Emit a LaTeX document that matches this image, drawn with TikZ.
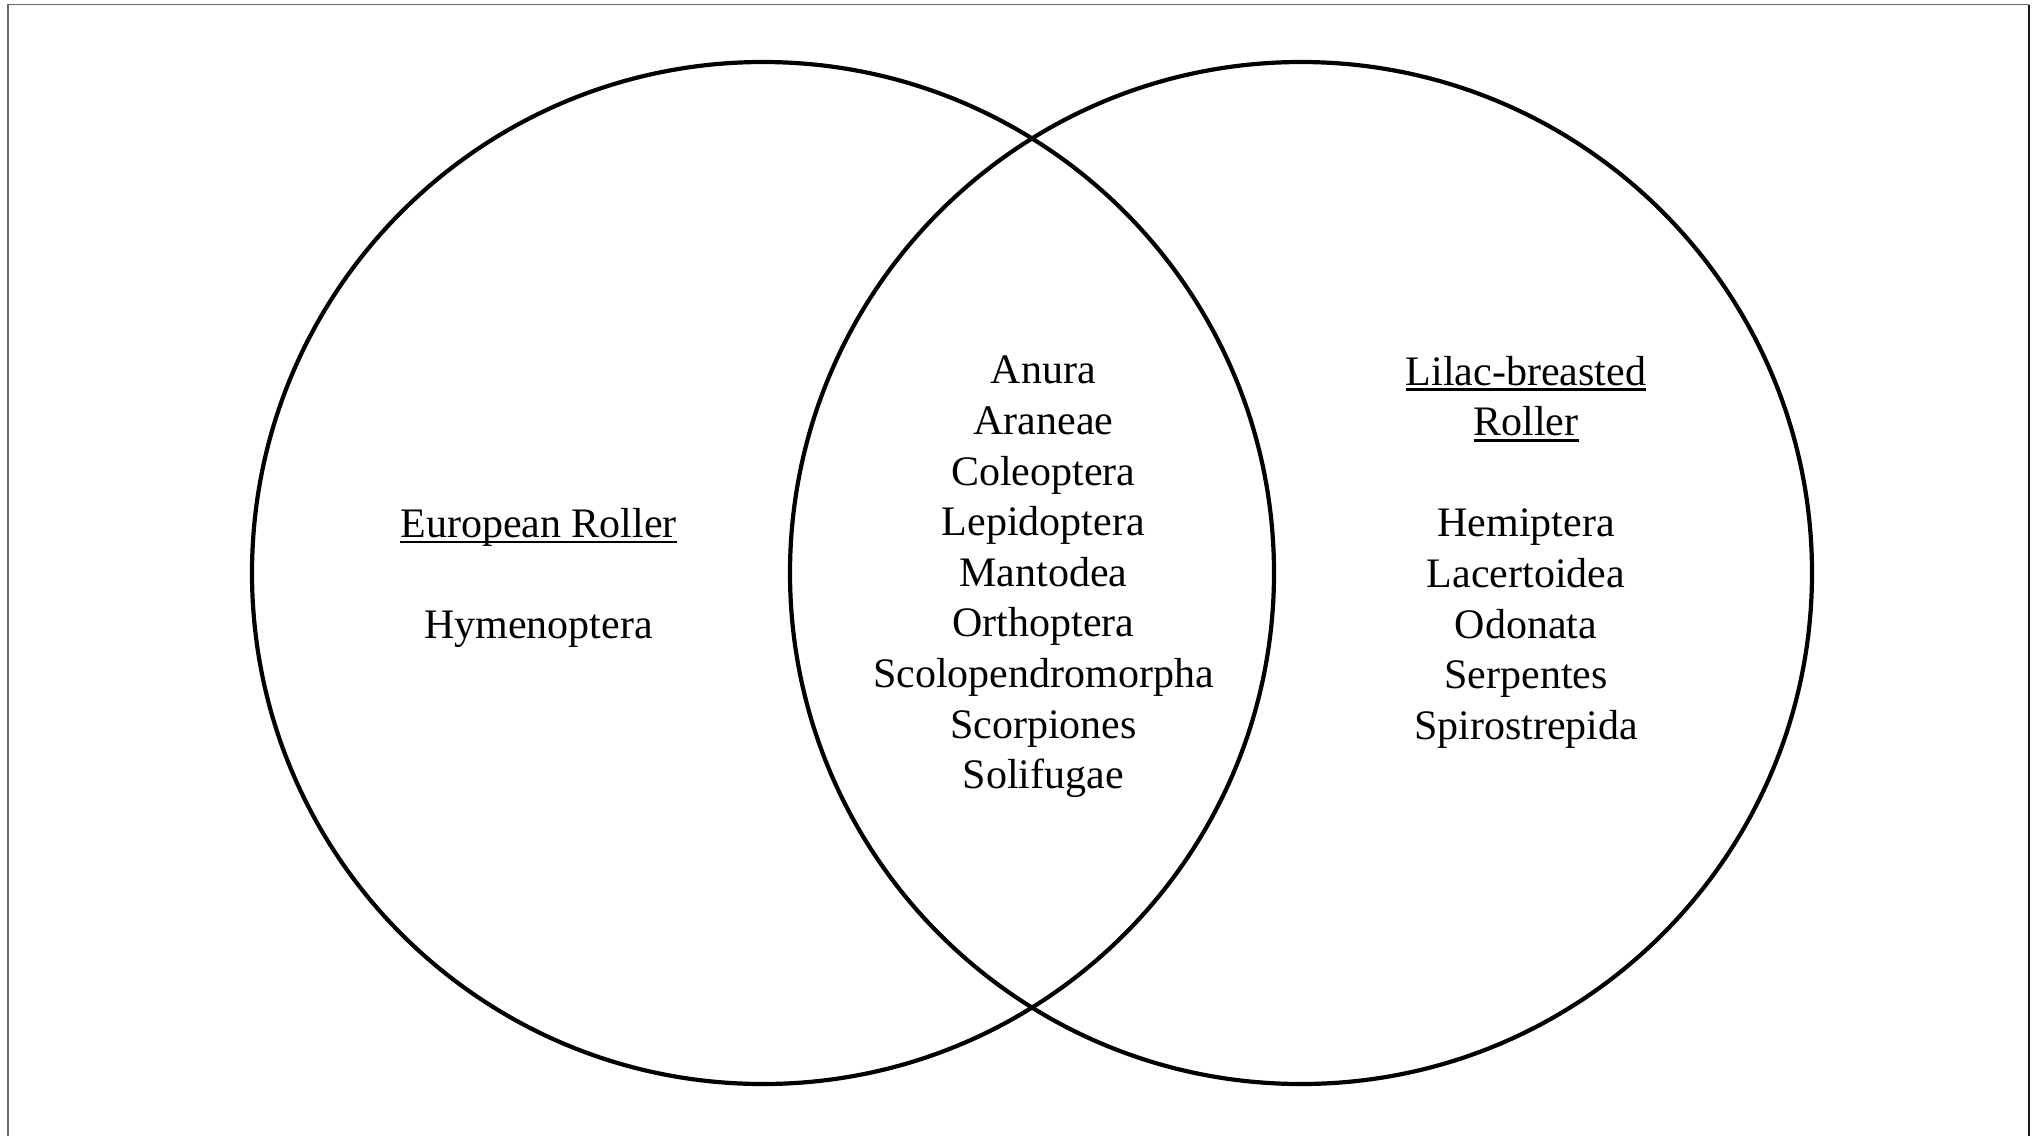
\documentclass[tikz,border=0pt]{standalone}
\usepackage{fontspec}
\setmainfont{Liberation Serif}
\newsavebox{\ulbox}
\newcommand{\ulname}[1]{\sbox{\ulbox}{#1}\rlap{\rule[-6pt]{\wd\ulbox}{2.6pt}}\usebox{\ulbox}}
\begin{document}
\begin{tikzpicture}[x=1pt,y=-1pt,
  ring/.style={draw=black,line width=4.2pt},
  label/.style={align=center,inner sep=0pt,font=\fontsize{42}{50.6}\selectfont},
  frameline/.style={line width=1.8pt}]
\useasboundingbox (0,0) rectangle (2040,1136);
\fill[white] (0,0) rectangle (2040,1136);
% frame
\coordinate (fbl) at (7.8,1136);
\coordinate (ftl) at (7.8,4.5);
\coordinate (ftr) at (2029.3,4.5);
\coordinate (fbr) at (2029.3,1136);
\draw[frameline,draw=black!60] (fbl) -- (ftl) -- (ftr);
\draw[frameline,draw=black!90] (ftr) -- (fbr);
% circles
\node[ring,circle,minimum size=1022pt,inner sep=0pt] (left) at (763,573) {};
\node[ring,circle,minimum size=1022pt,inner sep=0pt] (right) at (1301,573) {};
% texts
\node[label] (ltext) at (538.6,578) {\ulname{European Roller}\\ \\ Hymenoptera};
\node[label] (mtext) at (1043.4,577) {Anura\\Araneae\\Coleoptera\\Lepidoptera\\Mantodea\\Orthoptera\\Scolopendromorpha\\Scorpiones\\Solifugae};
\node[label] (rtext) at (1526,552) {\ulname{Lilac-breasted}\\\ulname{Roller}\\ \\Hemiptera\\Lacertoidea\\Odonata\\Serpentes\\Spirostrepida};
\end{tikzpicture}
\end{document}
